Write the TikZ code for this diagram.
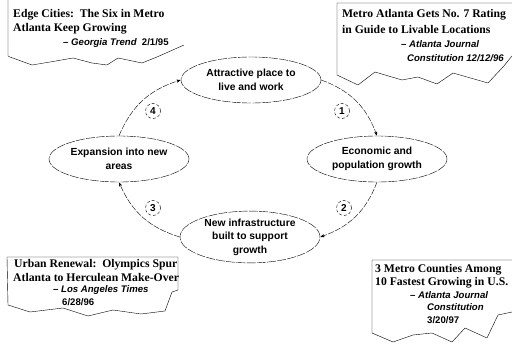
\documentclass[tikz,border=0pt]{standalone}
\usepackage{fontspec}
\setmainfont{Liberation Serif}
\setsansfont{Liberation Sans}
\usetikzlibrary{arrows,shapes.geometric}

\begin{document}
\begin{tikzpicture}[x=1pt,y=1pt,>=stealth',thin]
  \tikzstyle{stage}=[ellipse,draw,dash pattern=on 9pt off 1.2pt,minimum width=140pt,
    minimum height=46pt,inner sep=0pt,align=center,font=\fontsize{10.3}{14}\selectfont\sffamily\bfseries]
  \tikzstyle{stepno}=[circle,draw,densely dashed,minimum size=15pt,inner sep=0pt,
    font=\fontsize{10}{12}\selectfont\sffamily\bfseries]
  \tikzstyle{flow}=[->,dash pattern=on 6pt off 1.5pt,shorten >=0.5pt]
  \tikzstyle{torn}=[draw,line join=round]
  \tikzstyle{headline}=[anchor=west,inner sep=0pt,font=\fontsize{11.7}{14}\selectfont\bfseries]
  \tikzstyle{source}=[anchor=west,inner sep=0pt,font=\fontsize{9.6}{12}\selectfont\sffamily\bfseries\itshape]
  \tikzstyle{date}=[anchor=west,inner sep=0pt,font=\fontsize{9.6}{12}\selectfont\sffamily\bfseries]

  \useasboundingbox (0,0) rectangle (512,-350);

  % clippings
  \draw[torn] (8,0) -- (8,-56) -- (10,-57) -- (32,-65) -- (50,-62) -- (73,-58) -- (92,-63)
    -- (107,-65) -- (118,-58) -- (142,-63) -- (157,-57) -- (184,-45);
  \draw[torn] (512,-3) -- (337,-3) -- (337,-75) -- (358,-85) -- (375,-72) -- (402,-80)
    -- (418,-77) -- (437,-84) -- (453,-73) -- (488,-83) -- (503,-67) -- (512,-56);
  \draw[torn] (7,-257) -- (178,-257) -- (178,-290) -- (172,-292) -- (165,-311) -- (141,-314)
    -- (113,-310) -- (88,-316) -- (63,-308) -- (30,-312) -- (8,-305) -- cycle;
  \draw[torn] (512,-260) -- (372,-260) -- (372,-333) -- (393,-342) -- (413,-335) -- (432,-333)
    -- (452,-342) -- (465,-328) -- (487,-338) -- (498,-315) -- (512,-312);

  \node[headline] (t1a) at (13,-15) {Edge Cities:\ \ The Six in Metro};
  \node[headline] (t1b) at (13,-29) {Atlanta Keep Growing};
  \node[source]   (s1)  at (63,-43) {– Georgia Trend\ \ \upshape 2/1/95};

  \node[headline] (t2a) at (342,-15) {Metro Atlanta Gets No. 7 Rating};
  \node[headline] (t2b) at (342,-30) {in Guide to Livable Locations};
  \node[source]   (s2a) at (401,-44) {– Atlanta Journal};
  \node[source]   (s2b) at (407,-58) {Constitution 12/12/96};

  \node[headline] (t3a) at (14,-265) {Urban Renewal:\ \ Olympics Spur};
  \node[headline] (t3b) at (13,-278) {Atlanta to Herculean Make-Over};
  \node[source]   (s3a) at (53,-290) {– Los Angeles Times};
  \node[date]     (s3b) at (62,-302) {6/28/96};

  \node[headline] (t4a) at (375,-270) {3 Metro Counties Among};
  \node[headline] (t4b) at (375,-283) {10 Fastest Growing in U.S.};
  \node[source]   (s4a) at (410,-295) {– Atlanta Journal};
  \node[source]   (s4b) at (427,-307) {Constitution};
  \node[date]     (s4c) at (427,-320) {3/20/97};

  % growth cycle
  \node[stage] (live)   at (251,-80)  {Attractive place to\\live and work};
  \node[stage] (econ)   at (377,-159) {Economic and\\population growth};
  \node[stage,font=\fontsize{10.3}{13.5}\selectfont\sffamily\bfseries] (infra) at (250,-237)
    {New infrastructure\\built to support\\growth};
  \node[stage] (expand) at (119,-159) {Expansion into new\\areas};

  \node[stepno] (n1) at (342,-111) {1};
  \node[stepno] (n2) at (344,-208) {2};
  \node[stepno] (n3) at (153,-208) {3};
  \node[stepno] (n4) at (153,-111) {4};

  \draw[flow] (live.east)   to[bend left=25] (econ.north);
  \draw[flow] (econ.south)  to[bend left=25] (infra.east);
  \draw[flow] (infra.west)  to[bend left=25] (expand.south);
  \draw[flow] (expand.north) to[bend left=25] (live.west);
\end{tikzpicture}
\end{document}
